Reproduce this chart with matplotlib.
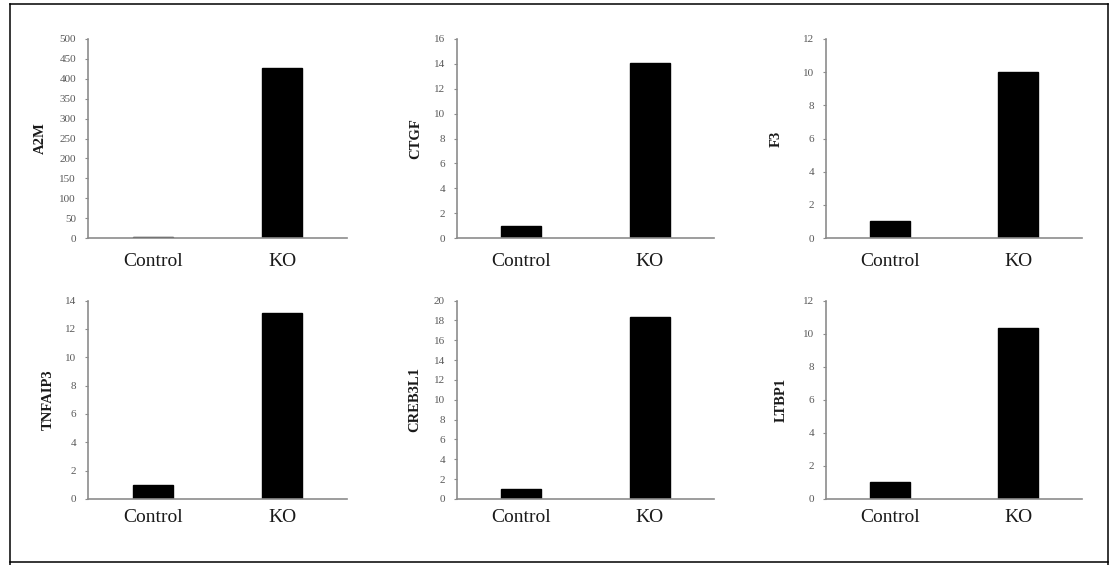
import matplotlib

matplotlib.use("Agg")
import matplotlib.pyplot as plt
from matplotlib.lines import Line2D

plt.rcParams["font.family"] = ["Liberation Serif", "DejaVu Serif"]

# data: one panel per gene, Control vs KO
groups = ["Control", "KO"]
genes = ["A2M", "CTGF", "F3", "TNFAIP3", "CREB3L1", "LTBP1"]
control = [3, 1, 1, 1, 1, 1]
ko = [427, 14.1, 10, 13.1, 18.3, 10.35]
y_max = [500, 16, 12, 14, 20, 12]
y_step = [50, 2, 2, 2, 2, 2]

W, H = 1119, 565
fig = plt.figure(figsize=(W / 100, H / 100), dpi=100)

# axes boxes in pixels (left, top, right, bottom)
cols = [(88, 347), (457, 714), (826, 1082)]
rows = [(39, 238), (300.5, 499)]
label_x = [47, 422, 783, 55, 421, 788]   # centre of the rotated y label, px
x_pad = [10.5, 7]                         # category label pad per row, pt

axis_grey = "#8c8c8c"
text_grey = "#595959"

for i, gene in enumerate(genes):
    r, c = divmod(i, 3)
    x0, x1 = cols[c]
    top, bot = rows[r]
    ax = fig.add_axes([x0 / W, (H - bot) / H, (x1 - x0) / W, (bot - top) / H])
    ax.bar(groups, [control[i], ko[i]], width=0.31, color="black", edgecolor="black")
    ax.set_xlim(-0.5, 1.5)
    ax.set_ylim(0, y_max[i])
    ax.set_yticks(range(0, y_max[i] + 1, y_step[i]))
    for side in ("top", "right"):
        ax.spines[side].set_visible(False)
    for side in ("left", "bottom"):
        ax.spines[side].set_color(axis_grey)
        ax.spines[side].set_linewidth(1.2)
    ax.tick_params(axis="y", length=2.2, width=0.8, color=axis_grey, pad=6.5,
                   labelsize=8, labelcolor=text_grey)
    ax.tick_params(axis="x", length=0, pad=x_pad[r], labelsize=14, labelcolor="#1a1a1a")
    ax.set_ylabel(gene, fontsize=10.5, fontweight="bold", color="#1a1a1a")
    lx = (label_x[i] - x0) / (x1 - x0)
    ax.yaxis.set_label_coords(lx, 0.5)
    ax.yaxis.label.set_horizontalalignment("center")

# outer frame around the whole figure
frame = [((10, 4), (1108, 4)), ((10, 4), (10, 565)),
         ((1108, 4), (1108, 565)), ((10, 562), (1108, 562))]
for (xa, ya), (xb, yb) in frame:
    fig.add_artist(Line2D([xa / W, xb / W], [1 - ya / H, 1 - yb / H],
                          color="black", linewidth=1.1))

fig.savefig("out.png", dpi=100)
